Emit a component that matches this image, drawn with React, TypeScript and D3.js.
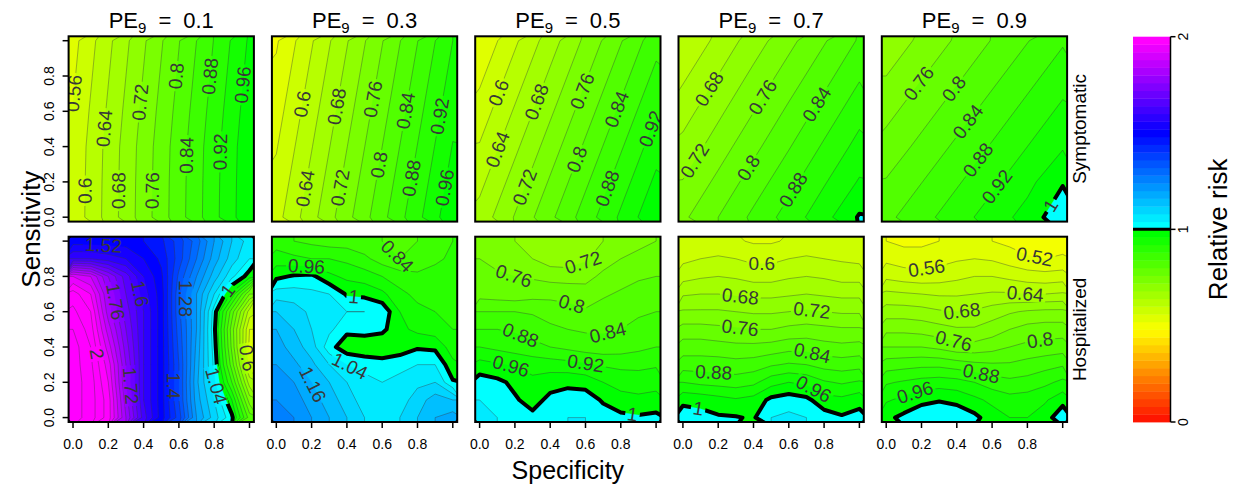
import React, { useEffect, useRef } from "react";
import * as d3 from "d3";

// ---------------------------------------------------------------------------
// Relative-risk surfaces over specificity (x) and sensitivity (y).
// Each grid lists rows from sensitivity 0 (first row) to 1 (last row);
// columns run from specificity 0 to 1 in equal steps.
// ---------------------------------------------------------------------------

const peValues = ["0.1", "0.3", "0.5", "0.7", "0.9"];
const outcomeRows = ["Symptomatic", "Hospitalized"];
const axisTicks = [0, 0.2, 0.4, 0.6, 0.8, 1.0];
const axisTickLabels = ["0.0", "0.2", "0.4", "0.6", "0.8"];
const legendTicks = [0, 1, 2];

// Symptomatic outcome, 6 x 6 grids (step 0.2)
const symptomaticPE01 = [
  [0.572, 0.656, 0.74, 0.824, 0.908, 0.992],
  [0.571, 0.655, 0.739, 0.823, 0.907, 0.991],
  [0.569, 0.653, 0.737, 0.821, 0.905, 0.989],
  [0.562, 0.646, 0.73, 0.814, 0.898, 0.982],
  [0.554, 0.638, 0.722, 0.806, 0.89, 0.974],
  [0.546, 0.63, 0.714, 0.798, 0.882, 0.966],
];
const symptomaticPE03 = [
  [0.585, 0.666, 0.747, 0.828, 0.909, 0.99],
  [0.571, 0.652, 0.733, 0.814, 0.895, 0.976],
  [0.557, 0.638, 0.719, 0.8, 0.881, 0.962],
  [0.543, 0.624, 0.705, 0.786, 0.867, 0.948],
  [0.529, 0.61, 0.691, 0.772, 0.853, 0.934],
  [0.515, 0.596, 0.677, 0.758, 0.839, 0.92],
];
const symptomaticPE05 = [
  [0.655, 0.723, 0.791, 0.859, 0.927, 0.995],
  [0.629, 0.697, 0.765, 0.833, 0.901, 0.969],
  [0.603, 0.671, 0.739, 0.807, 0.875, 0.943],
  [0.577, 0.645, 0.713, 0.781, 0.849, 0.917],
  [0.551, 0.619, 0.687, 0.755, 0.823, 0.891],
  [0.525, 0.593, 0.661, 0.729, 0.797, 0.865],
];
const symptomaticPE07 = [
  [0.752, 0.8, 0.849, 0.897, 0.946, 1.004],
  [0.722, 0.77, 0.819, 0.867, 0.916, 0.964],
  [0.692, 0.74, 0.789, 0.837, 0.886, 0.934],
  [0.663, 0.711, 0.759, 0.808, 0.856, 0.905],
  [0.633, 0.681, 0.73, 0.778, 0.826, 0.875],
  [0.603, 0.651, 0.7, 0.748, 0.796, 0.845],
];
const symptomaticPE09 = [
  [0.83, 0.866, 0.902, 0.939, 0.975, 1.03],
  [0.803, 0.839, 0.875, 0.911, 0.948, 0.996],
  [0.775, 0.811, 0.848, 0.884, 0.92, 0.956],
  [0.748, 0.784, 0.82, 0.857, 0.893, 0.929],
  [0.72, 0.757, 0.793, 0.829, 0.866, 0.902],
  [0.693, 0.729, 0.766, 0.802, 0.838, 0.875],
];

// Hospitalized outcome, 11 x 11 grids (step 0.1)
const hospitalizedPE01 = [
  [2.1, 2.06, 1.98, 1.8, 1.62, 1.5, 1.38, 1.2, 1.1, 1.01, 0.82],
  [2.1, 2.06, 1.98, 1.78, 1.6, 1.5, 1.36, 1.18, 1.08, 0.96, 0.74],
  [2.1, 2.06, 1.96, 1.76, 1.6, 1.5, 1.36, 1.17, 1.05, 0.88, 0.66],
  [2.1, 2.05, 1.94, 1.76, 1.6, 1.5, 1.36, 1.18, 1.03, 0.82, 0.59],
  [2.1, 2.04, 1.9, 1.74, 1.6, 1.5, 1.35, 1.19, 1.02, 0.79, 0.55],
  [2.08, 2.02, 1.86, 1.72, 1.6, 1.5, 1.34, 1.2, 1.01, 0.78, 0.56],
  [2.05, 2.0, 1.82, 1.7, 1.6, 1.5, 1.33, 1.2, 1.02, 0.82, 0.62],
  [2.02, 1.96, 1.8, 1.68, 1.58, 1.5, 1.33, 1.2, 1.08, 0.95, 0.76],
  [1.92, 1.88, 1.76, 1.66, 1.56, 1.49, 1.35, 1.24, 1.14, 1.05, 0.98],
  [1.6, 1.6, 1.58, 1.56, 1.52, 1.47, 1.38, 1.28, 1.18, 1.1, 1.04],
  [1.5, 1.5, 1.5, 1.5, 1.48, 1.45, 1.38, 1.3, 1.2, 1.12, 1.06],
];
const hospitalizedPE03 = [
  [1.26, 1.24, 1.2, 1.16, 1.12, 1.08, 1.06, 1.08, 1.12, 1.16, 1.18],
  [1.24, 1.22, 1.18, 1.14, 1.1, 1.06, 1.05, 1.06, 1.1, 1.14, 1.12],
  [1.22, 1.2, 1.16, 1.12, 1.08, 1.05, 1.04, 1.05, 1.07, 1.08, 1.005],
  [1.2, 1.17, 1.13, 1.08, 1.04, 1.03, 1.02, 1.03, 1.04, 1.04, 0.97],
  [1.18, 1.14, 1.1, 1.015, 0.975, 0.965, 0.965, 0.975, 0.995, 0.99, 0.94],
  [1.16, 1.12, 1.08, 1.05, 1.01, 1.02, 1.01, 0.97, 0.95, 0.94, 0.92],
  [1.12, 1.1, 1.07, 1.06, 1.04, 1.04, 1.03, 0.96, 0.93, 0.92, 0.91],
  [1.06, 1.06, 1.05, 1.04, 0.995, 0.99, 0.97, 0.93, 0.91, 0.9, 0.9],
  [0.99, 1.005, 1.01, 0.97, 0.95, 0.94, 0.92, 0.9, 0.89, 0.9, 0.91],
  [0.94, 0.93, 0.92, 0.92, 0.91, 0.89, 0.86, 0.84, 0.85, 0.87, 0.89],
  [0.9, 0.88, 0.87, 0.86, 0.86, 0.85, 0.84, 0.83, 0.84, 0.86, 0.88],
];
const hospitalizedPE05 = [
  [1.05, 1.04, 1.02, 1.01, 1.02, 1.04, 1.04, 1.02, 1.01, 1.005, 1.01],
  [1.04, 1.03, 1.005, 0.985, 1.01, 1.02, 1.02, 0.995, 0.975, 0.97, 0.975],
  [1.02, 1.01, 0.99, 0.97, 0.985, 0.99, 0.985, 0.96, 0.945, 0.94, 0.945],
  [0.975, 0.965, 0.955, 0.945, 0.94, 0.935, 0.925, 0.915, 0.91, 0.91, 0.915],
  [0.92, 0.91, 0.9, 0.89, 0.88, 0.87, 0.86, 0.855, 0.86, 0.87, 0.88],
  [0.88, 0.88, 0.875, 0.865, 0.85, 0.84, 0.835, 0.835, 0.84, 0.85, 0.86],
  [0.84, 0.84, 0.84, 0.835, 0.82, 0.81, 0.805, 0.815, 0.825, 0.835, 0.84],
  [0.785, 0.78, 0.775, 0.785, 0.79, 0.79, 0.78, 0.795, 0.805, 0.815, 0.82],
  [0.77, 0.765, 0.76, 0.755, 0.745, 0.74, 0.745, 0.77, 0.785, 0.795, 0.8],
  [0.76, 0.75, 0.74, 0.72, 0.7, 0.7, 0.715, 0.74, 0.76, 0.77, 0.78],
  [0.75, 0.74, 0.72, 0.7, 0.685, 0.685, 0.7, 0.72, 0.74, 0.75, 0.76],
];
const hospitalizedPE07 = [
  [1.02, 1.015, 1.005, 1.003, 0.995, 1.04, 1.05, 1.04, 1.02, 1.005, 1.015],
  [0.99, 0.985, 0.975, 0.965, 0.975, 1.01, 1.02, 1.01, 0.975, 0.97, 0.985],
  [0.92, 0.91, 0.905, 0.9, 0.91, 0.945, 0.96, 0.95, 0.925, 0.915, 0.925],
  [0.86, 0.86, 0.86, 0.855, 0.86, 0.875, 0.885, 0.88, 0.865, 0.86, 0.865],
  [0.82, 0.82, 0.815, 0.81, 0.81, 0.815, 0.825, 0.825, 0.815, 0.81, 0.815],
  [0.775, 0.775, 0.77, 0.765, 0.76, 0.76, 0.77, 0.775, 0.77, 0.765, 0.765],
  [0.725, 0.725, 0.725, 0.72, 0.715, 0.715, 0.72, 0.725, 0.72, 0.715, 0.715],
  [0.675, 0.68, 0.68, 0.675, 0.67, 0.67, 0.675, 0.68, 0.675, 0.67, 0.67],
  [0.625, 0.635, 0.64, 0.635, 0.625, 0.625, 0.635, 0.64, 0.635, 0.625, 0.625],
  [0.59, 0.6, 0.605, 0.6, 0.59, 0.59, 0.6, 0.605, 0.6, 0.595, 0.59],
  [0.565, 0.57, 0.575, 0.565, 0.555, 0.555, 0.565, 0.575, 0.57, 0.565, 0.56],
];
const hospitalizedPE09 = [
  [0.99, 1.01, 1.025, 1.03, 1.025, 1.01, 0.98, 0.96, 0.96, 0.98, 1.03],
  [0.955, 0.97, 0.99, 0.997, 0.99, 0.97, 0.95, 0.935, 0.94, 0.955, 0.985],
  [0.915, 0.925, 0.935, 0.94, 0.935, 0.92, 0.9, 0.89, 0.895, 0.91, 0.93],
  [0.86, 0.865, 0.87, 0.87, 0.86, 0.85, 0.845, 0.845, 0.855, 0.865, 0.875],
  [0.8, 0.8, 0.8, 0.79, 0.775, 0.775, 0.785, 0.8, 0.81, 0.815, 0.82],
  [0.75, 0.75, 0.745, 0.735, 0.725, 0.725, 0.74, 0.76, 0.775, 0.78, 0.78],
  [0.7, 0.7, 0.695, 0.685, 0.68, 0.685, 0.7, 0.715, 0.725, 0.73, 0.73],
  [0.65, 0.645, 0.64, 0.635, 0.635, 0.64, 0.645, 0.645, 0.64, 0.64, 0.645],
  [0.59, 0.58, 0.575, 0.58, 0.59, 0.6, 0.6, 0.59, 0.58, 0.575, 0.58],
  [0.55, 0.54, 0.54, 0.545, 0.555, 0.56, 0.555, 0.54, 0.525, 0.52, 0.525],
  [0.52, 0.51, 0.51, 0.52, 0.53, 0.53, 0.52, 0.51, 0.5, 0.5, 0.505],
];

// Contour labels: [level, specificity, sensitivity] near where each label sits.
const symptomaticPE01Labels = [
  [0.56, 0.02, 0.7], [0.6, 0.07, 0.15], [0.64, 0.21, 0.5], [0.68, 0.27, 0.15],
  [0.72, 0.4, 0.65], [0.76, 0.45, 0.15], [0.8, 0.58, 0.8], [0.84, 0.64, 0.35],
  [0.88, 0.76, 0.8], [0.92, 0.83, 0.37], [0.96, 0.96, 0.75],
];
const symptomaticPE03Labels = [
  [0.6, 0.126, 0.645], [0.68, 0.296, 0.636], [0.76, 0.523, 0.673], [0.84, 0.712, 0.607],
  [0.92, 0.891, 0.579], [0.64, 0.108, 0.173], [0.72, 0.325, 0.173], [0.8, 0.533, 0.305],
  [0.88, 0.721, 0.229], [0.96, 0.92, 0.173],
];
const symptomaticPE05Labels = [
  [0.6, 0.069, 0.72], [0.68, 0.296, 0.664], [0.76, 0.541, 0.73], [0.84, 0.739, 0.626],
  [0.92, 0.938, 0.513], [0.64, 0.059, 0.4], [0.72, 0.248, 0.173], [0.8, 0.513, 0.343],
  [0.88, 0.7, 0.173],
];
const symptomaticPE07Labels = [
  [0.68, 0.145, 0.73], [0.76, 0.447, 0.683], [0.84, 0.749, 0.645],
  [0.72, 0.06, 0.324], [0.8, 0.362, 0.286], [0.88, 0.626, 0.154],
];
const symptomaticPE09Labels = [
  [0.76, 0.183, 0.759], [0.8, 0.381, 0.73], [0.84, 0.438, 0.56],
  [0.88, 0.495, 0.343], [0.92, 0.627, 0.173], [1, 0.91, 0.08],
];
const hospitalizedPE01Labels = [
  [1.52, 0.17, 0.94], [1.76, 0.23, 0.655], [2, 0.125, 0.36], [1.72, 0.32, 0.18],
  [1.6, 0.42, 0.71], [1.28, 0.635, 0.675], [1.4, 0.56, 0.18], [1.04, 0.81, 0.18],
  [1, 0.89, 0.71], [0.6, 0.975, 0.335],
];
const hospitalizedPE03Labels = [
  [0.84, 0.68, 0.91], [0.96, 0.17, 0.835], [1, 0.44, 0.7], [1.04, 0.4, 0.26], [1.16, 0.23, 0.2],
];
const hospitalizedPE05Labels = [
  [0.72, 0.588, 0.874], [0.76, 0.173, 0.741], [0.8, 0.531, 0.675], [0.88, 0.229, 0.458],
  [0.84, 0.73, 0.467], [0.96, 0.173, 0.279], [0.92, 0.595, 0.269], [1, 0.871, 0.052],
];
const hospitalizedPE07Labels = [
  [0.6, 0.447, 0.883], [0.68, 0.325, 0.684], [0.72, 0.73, 0.609], [0.76, 0.325, 0.514],
  [0.84, 0.73, 0.354], [0.88, 0.173, 0.231], [0.96, 0.74, 0.16], [1, 0.088, 0.061],
];
const hospitalizedPE09Labels = [
  [0.56, 0.23, 0.836], [0.52, 0.835, 0.883], [0.64, 0.787, 0.694], [0.68, 0.429, 0.603],
  [0.76, 0.381, 0.43], [0.8, 0.873, 0.43], [0.88, 0.533, 0.222], [0.96, 0.174, 0.109],
];

const panelSpecs = [
  { row: 0, col: 0, grid: symptomaticPE01, labels: symptomaticPE01Labels },
  { row: 0, col: 1, grid: symptomaticPE03, labels: symptomaticPE03Labels },
  { row: 0, col: 2, grid: symptomaticPE05, labels: symptomaticPE05Labels },
  { row: 0, col: 3, grid: symptomaticPE07, labels: symptomaticPE07Labels },
  { row: 0, col: 4, grid: symptomaticPE09, labels: symptomaticPE09Labels },
  { row: 1, col: 0, grid: hospitalizedPE01, labels: hospitalizedPE01Labels },
  { row: 1, col: 1, grid: hospitalizedPE03, labels: hospitalizedPE03Labels },
  { row: 1, col: 2, grid: hospitalizedPE05, labels: hospitalizedPE05Labels },
  { row: 1, col: 3, grid: hospitalizedPE07, labels: hospitalizedPE07Labels },
  { row: 1, col: 4, grid: hospitalizedPE09, labels: hospitalizedPE09Labels },
];

// ---------------------------------------------------------------------------
// Layout and style
// ---------------------------------------------------------------------------
const W = 1239;
const H = 486;
const FONT = "'Liberation Sans', Arial, Helvetica, sans-serif";
const PANEL_LEFT = 68.6;
const PANEL_STEP = 203.3;
const PANEL_W = 185.3;
const PANEL_H = 185.3;
const ROW_TOP = [36.3, 236.7];
const DOMAIN: [number, number] = [-0.025, 1.025];
const STEP = 0.04;
const N_BANDS = 50;

const fillLevels = d3.range(0, N_BANDS).map((k) => +(k * STEP).toFixed(2));
const lineLevels = d3.range(1, 56).map((k) => +(k * STEP).toFixed(2));

// Rainbow palette: red -> yellow -> green below 1, cyan -> blue -> magenta above.
function bandColor(v: number) {
  const k = Math.max(0, Math.min(N_BANDS - 1, Math.round(v / STEP)));
  const hue = k < 25 ? 5 + (115 * k) / 24 : 180 + (120 * (k - 25)) / 24;
  return d3.hsl(hue, 1, 0.5).formatHex();
}

const fmt = (v: number) => String(+v.toFixed(2));
const LABEL_FS = 19;
function labelWidth(s: string, fs: number) {
  let w = 0;
  for (const ch of s) w += ch === "." ? 0.278 : 0.556;
  return w * fs;
}

function draw(el: SVGSVGElement) {
  const svg = d3.select(el);
  svg.selectAll("*").remove();
  const defs = svg.append("defs");

  panelSpecs.forEach((p, idx) => {
    const left = PANEL_LEFT + p.col * PANEL_STEP;
    const top = ROW_TOP[p.row];
    const xs = d3.scaleLinear().domain(DOMAIN).range([left, left + PANEL_W]);
    const ys = d3.scaleLinear().domain(DOMAIN).range([top + PANEL_H, top]);
    const m = p.grid.length;
    const n = p.grid[0].length;
    const values = p.grid.flat();
    const gx = (c: number) => xs((c - 0.5) / (n - 1));
    const gy = (c: number) => ys((c - 0.5) / (m - 1));
    const path = d3.geoPath(
      d3.geoTransform({
        point(px: number, py: number) {
          (this as any).stream.point(gx(px), gy(py));
        },
      })
    );
    const onBorder = (pt: number[]) => pt[0] <= 0 || pt[0] >= n || pt[1] <= 0 || pt[1] >= m;

    defs
      .append("clipPath")
      .attr("id", `clip-${idx}`)
      .append("rect")
      .attr("x", left)
      .attr("y", top)
      .attr("width", PANEL_W)
      .attr("height", PANEL_H);

    const fills = d3.contours().size([n, m]).thresholds(fillLevels)(values);
    const lines = d3.contours().size([n, m]).thresholds(lineLevels)(values);

    // place each label on its contour, following the line direction
    const placed = p.labels.map(([lv, lx, ly]) => {
      const c = lines.find((d) => Math.abs(d.value - lv) < 1e-6);
      const ax = xs(lx);
      const ay = ys(ly);
      let best = { d: Infinity, x: ax, y: ay, a: 0 };
      if (c) {
        c.coordinates.forEach((poly) =>
          poly.forEach((ring) => {
            for (let i = 0; i < ring.length - 1; i++) {
              const a = ring[i];
              const b = ring[i + 1];
              if (onBorder(a) && onBorder(b)) continue;
              const x1 = gx(a[0]), y1 = gy(a[1]), x2 = gx(b[0]), y2 = gy(b[1]);
              const dx = x2 - x1, dy = y2 - y1;
              const L2 = dx * dx + dy * dy;
              if (L2 === 0) continue;
              let t = ((ax - x1) * dx + (ay - y1) * dy) / L2;
              t = Math.max(0, Math.min(1, t));
              const px = x1 + t * dx, py = y1 + t * dy;
              const d = Math.hypot(px - ax, py - ay);
              if (d < best.d) {
                let ang = (Math.atan2(dy, dx) * 180) / Math.PI;
                if (ang > 90) ang -= 180;
                if (ang <= -90) ang += 180;
                best = { d, x: px, y: py, a: ang };
              }
            }
          })
        );
      }
      return { text: fmt(lv), x: best.x, y: best.y, a: best.a };
    });

    const mask = defs
      .append("mask")
      .attr("id", `mask-${idx}`)
      .attr("maskUnits", "userSpaceOnUse")
      .attr("x", left - 20)
      .attr("y", top - 20)
      .attr("width", PANEL_W + 40)
      .attr("height", PANEL_H + 40);
    mask
      .append("rect")
      .attr("x", left - 20)
      .attr("y", top - 20)
      .attr("width", PANEL_W + 40)
      .attr("height", PANEL_H + 40)
      .attr("fill", "white");
    placed.forEach((l) => {
      const w = labelWidth(l.text, LABEL_FS) + 4;
      const h = LABEL_FS * 0.8;
      mask
        .append("rect")
        .attr("x", -w / 2)
        .attr("y", -h / 2)
        .attr("width", w)
        .attr("height", h)
        .attr("transform", `translate(${l.x},${l.y}) rotate(${l.a})`)
        .attr("fill", "black");
    });

    const g = svg.append("g").attr("clip-path", `url(#clip-${idx})`);
    g.append("rect")
      .attr("x", left)
      .attr("y", top)
      .attr("width", PANEL_W)
      .attr("height", PANEL_H)
      .attr("fill", bandColor(d3.min(values) as number));
    g.append("g")
      .selectAll("path")
      .data(fills)
      .join("path")
      .attr("d", (d) => path(d as any))
      .attr("fill", (d) => bandColor(d.value))
      .attr("stroke", (d) => bandColor(d.value))
      .attr("stroke-width", 0.3);

    const lg = g.append("g").attr("mask", `url(#mask-${idx})`);
    lg.selectAll("path.thin")
      .data(lines.filter((d) => Math.abs(d.value - 1) > 1e-6))
      .join("path")
      .attr("class", "thin")
      .attr("d", (d) => path(d as any))
      .attr("fill", "none")
      .attr("stroke", "#3a3a3a")
      .attr("stroke-opacity", 0.55)
      .attr("stroke-width", 0.7);
    lg.selectAll("path.thick")
      .data(lines.filter((d) => Math.abs(d.value - 1) < 1e-6))
      .join("path")
      .attr("class", "thick")
      .attr("d", (d) => path(d as any))
      .attr("fill", "none")
      .attr("stroke", "#000")
      .attr("stroke-width", 4)
      .attr("stroke-linejoin", "round");

    g.append("g")
      .selectAll("text")
      .data(placed)
      .join("text")
      .attr("transform", (l) => `translate(${l.x},${l.y}) rotate(${l.a})`)
      .attr("text-anchor", "middle")
      .attr("dominant-baseline", "central")
      .attr("font-family", FONT)
      .attr("font-size", LABEL_FS)
      .attr("fill", "#383838")
      .text((l) => l.text);

    svg
      .append("rect")
      .attr("x", left)
      .attr("y", top)
      .attr("width", PANEL_W)
      .attr("height", PANEL_H)
      .attr("fill", "none")
      .attr("stroke", "#000")
      .attr("stroke-width", 2);

    // y axis on the first column
    if (p.col === 0) {
      axisTicks.forEach((t, i) => {
        svg
          .append("line")
          .attr("x1", left)
          .attr("x2", left - 6)
          .attr("y1", ys(t))
          .attr("y2", ys(t))
          .attr("stroke", "#000")
          .attr("stroke-width", 1.5);
        if (i < axisTickLabels.length) {
          svg
            .append("text")
            .attr("transform", `translate(${left - 15},${ys(t)}) rotate(-90)`)
            .attr("text-anchor", "middle")
            .attr("font-family", FONT)
            .attr("font-size", 14)
            .text(axisTickLabels[i]);
        }
      });
    }
    // x axis under the bottom row
    if (p.row === 1) {
      axisTicks.forEach((t, i) => {
        svg
          .append("line")
          .attr("x1", xs(t))
          .attr("x2", xs(t))
          .attr("y1", top + PANEL_H)
          .attr("y2", top + PANEL_H + 6)
          .attr("stroke", "#000")
          .attr("stroke-width", 1.5);
        if (i < axisTickLabels.length) {
          svg
            .append("text")
            .attr("x", xs(t))
            .attr("y", 449)
            .attr("text-anchor", "middle")
            .attr("font-family", FONT)
            .attr("font-size", 14)
            .text(axisTickLabels[i]);
        }
      });
    }
    // column titles
    if (p.row === 0) {
      const t = svg
        .append("text")
        .attr("x", left + PANEL_W / 2)
        .attr("y", 28)
        .attr("text-anchor", "middle")
        .attr("font-family", FONT)
        .attr("font-size", 22);
      t.append("tspan").text("PE");
      t.append("tspan").attr("font-size", 15).attr("dy", 5).text("9");
      t.append("tspan").attr("dy", -5).attr("dx", 12).text("=");
      t.append("tspan").attr("dx", 12).text(peValues[p.col]);
    }
    // row labels at the right of the last column
    if (p.col === 4) {
      svg
        .append("text")
        .attr("transform", `translate(${left + PANEL_W + 19},${top + PANEL_H / 2}) rotate(-90)`)
        .attr("text-anchor", "middle")
        .attr("font-family", FONT)
        .attr("font-size", 19)
        .text(outcomeRows[p.row]);
    }
  });

  // axis titles
  svg
    .append("text")
    .attr("transform", `translate(40,${(ROW_TOP[0] + ROW_TOP[1] + PANEL_H) / 2}) rotate(-90)`)
    .attr("text-anchor", "middle")
    .attr("font-family", FONT)
    .attr("font-size", 26)
    .text("Sensitivity");
  svg
    .append("text")
    .attr("x", PANEL_LEFT + (4 * PANEL_STEP + PANEL_W) / 2)
    .attr("y", 479)
    .attr("text-anchor", "middle")
    .attr("font-family", FONT)
    .attr("font-size", 25)
    .text("Specificity");

  // colour key
  const lx0 = 1133;
  const lx1 = 1170.5;
  const ly = d3.scaleLinear().domain([0, 2]).range([422, 36.7]);
  const key = svg.append("g");
  key
    .selectAll("rect")
    .data(fillLevels)
    .join("rect")
    .attr("x", lx0)
    .attr("width", lx1 - lx0)
    .attr("y", (v) => ly(v + STEP))
    .attr("height", (v) => ly(v) - ly(v + STEP) + 0.4)
    .attr("fill", (v) => bandColor(v));
  key
    .append("line")
    .attr("x1", lx0)
    .attr("x2", lx1)
    .attr("y1", ly(1))
    .attr("y2", ly(1))
    .attr("stroke", "#000")
    .attr("stroke-width", 3);
  key
    .append("line")
    .attr("x1", lx1)
    .attr("x2", lx1)
    .attr("y1", ly(0))
    .attr("y2", ly(2))
    .attr("stroke", "#000")
    .attr("stroke-width", 1.5);
  legendTicks.forEach((t) => {
    key
      .append("line")
      .attr("x1", lx1)
      .attr("x2", lx1 + 5)
      .attr("y1", ly(t))
      .attr("y2", ly(t))
      .attr("stroke", "#000")
      .attr("stroke-width", 1.5);
    key
      .append("text")
      .attr("transform", `translate(${lx1 + 17},${ly(t)}) rotate(-90)`)
      .attr("text-anchor", "middle")
      .attr("font-family", FONT)
      .attr("font-size", 14)
      .text(String(t));
  });
  key
    .append("text")
    .attr("transform", `translate(1227,${ly(1)}) rotate(-90)`)
    .attr("text-anchor", "middle")
    .attr("font-family", FONT)
    .attr("font-size", 26)
    .text("Relative risk");
}

export default function App() {
  const ref = useRef<SVGSVGElement>(null);
  useEffect(() => {
    if (ref.current) draw(ref.current);
  }, []);
  return (
    <svg
      ref={ref}
      width={W}
      height={H}
      style={{ position: "absolute", left: 0, top: 0, background: "#fff" }}
    />
  );
}
